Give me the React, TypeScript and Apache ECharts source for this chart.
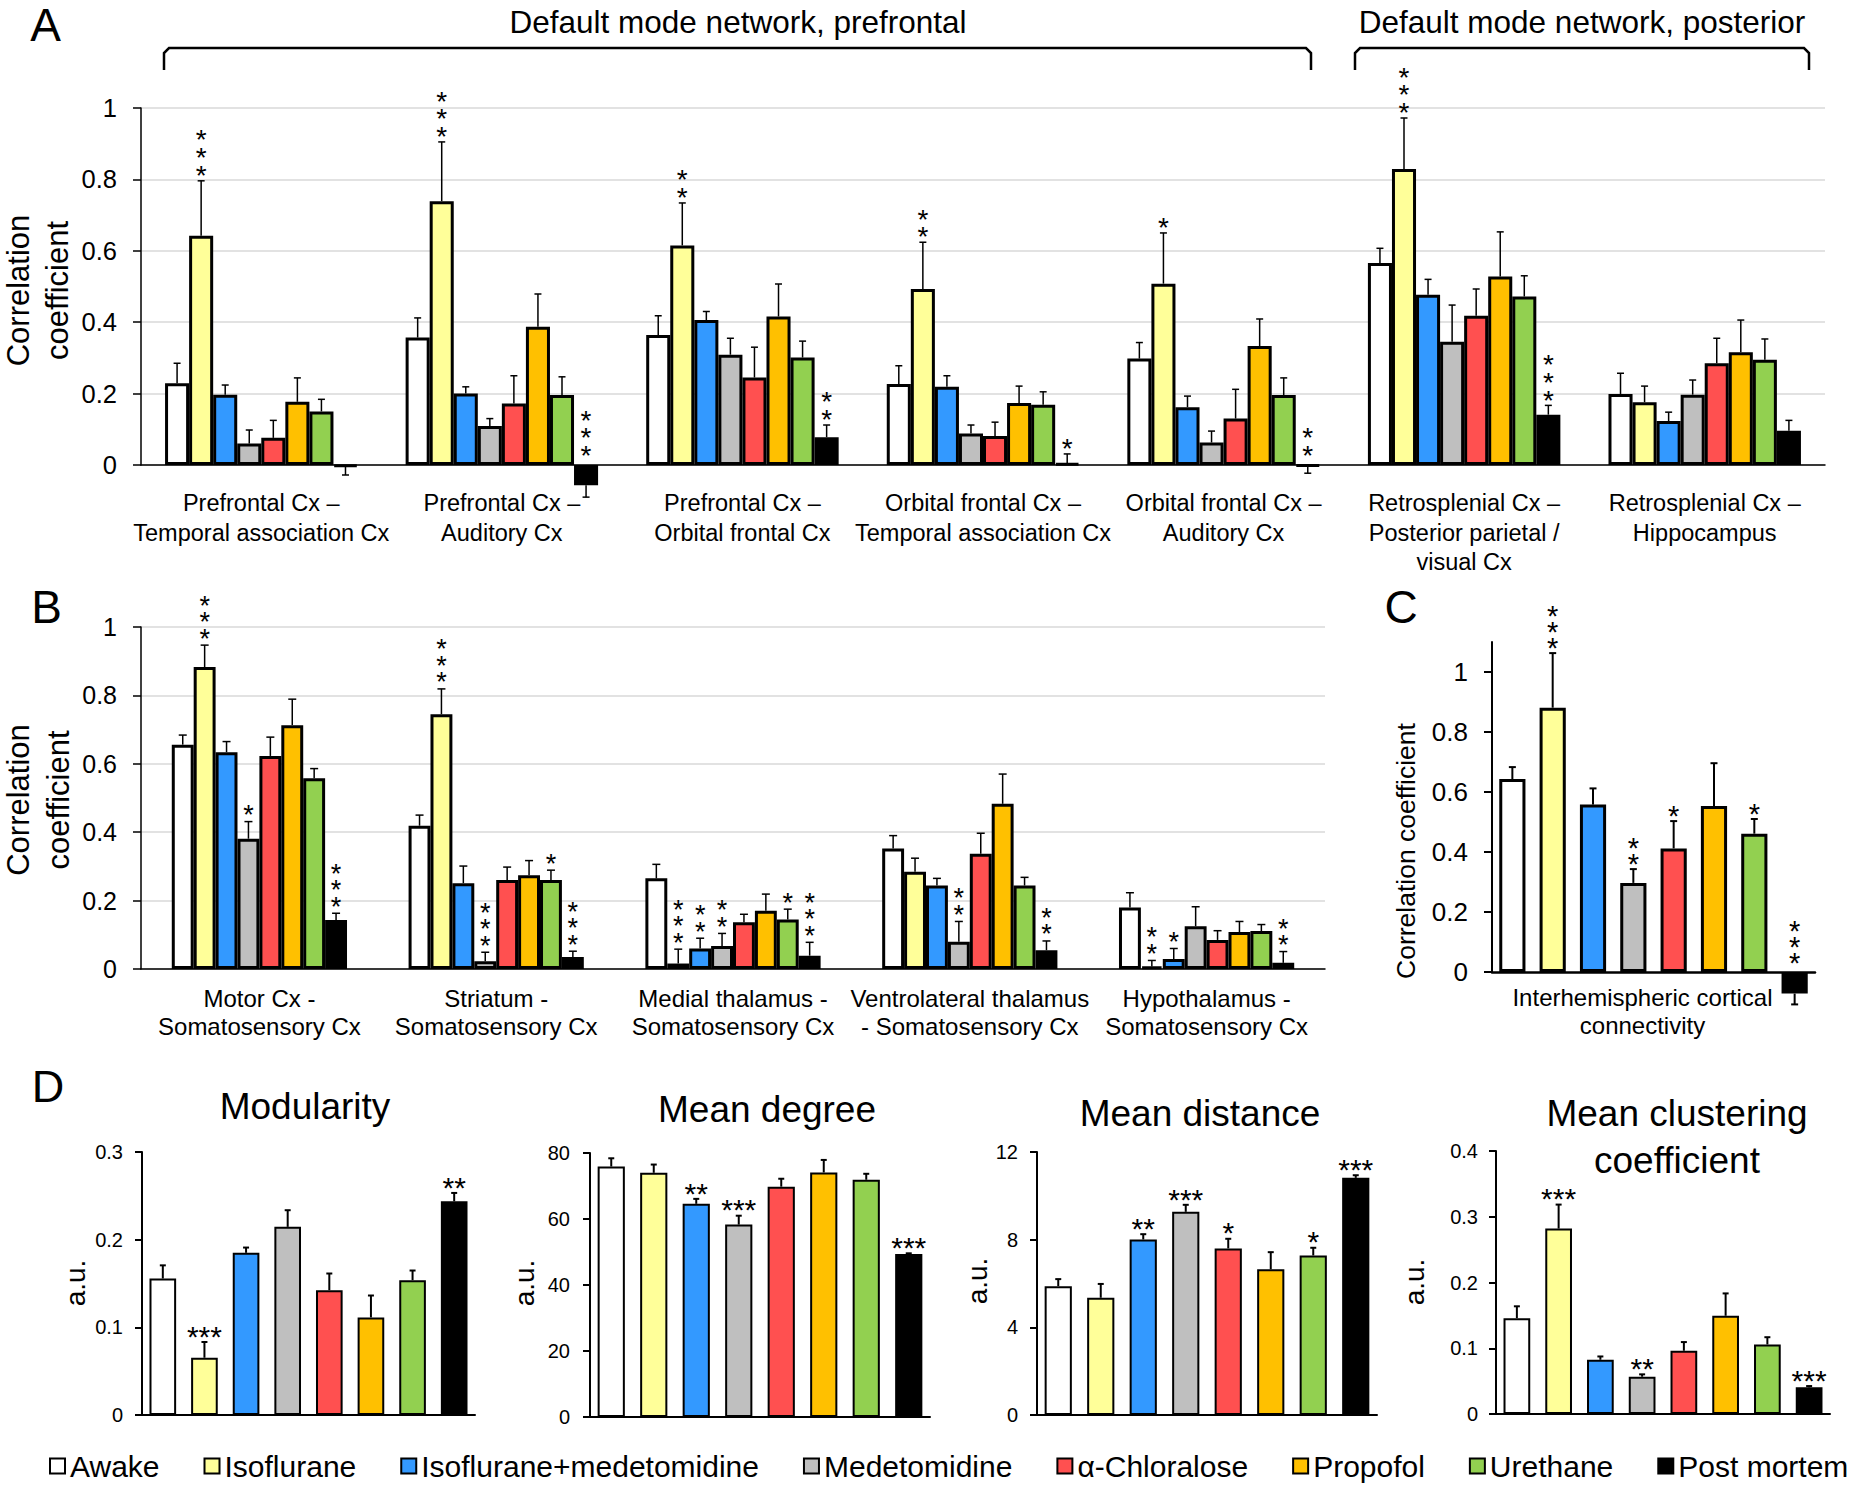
import React, { useEffect, useRef } from "react";
import * as echarts from "echarts";

const FONT = '"Liberation Sans", Arial, Helvetica, sans-serif';

const conditions = [
  "Awake",
  "Isoflurane",
  "Isoflurane+medetomidine",
  "Medetomidine",
  "α-Chloralose",
  "Propofol",
  "Urethane",
  "Post mortem",
];
const colors = ["#ffffff", "#ffff99", "#3399ff", "#bfbfbf", "#ff5050", "#ffc000", "#92d050", "#000000"];

// ---------- Panel A (rows = conditions, columns = categories)
const aCategories = [
  "Prefrontal Cx –\nTemporal association Cx",
  "Prefrontal Cx –\nAuditory Cx",
  "Prefrontal Cx –\nOrbital frontal Cx",
  "Orbital frontal Cx –\nTemporal association Cx",
  "Orbital frontal Cx –\nAuditory Cx",
  "Retrosplenial Cx –\nPosterior parietal /\nvisual Cx",
  "Retrosplenial Cx –\nHippocampus",
];
const aMean = [
  [0.229, 0.357, 0.364, 0.227, 0.298, 0.566, 0.199],
  [0.642, 0.739, 0.615, 0.493, 0.508, 0.829, 0.176],
  [0.197, 0.2, 0.406, 0.219, 0.162, 0.477, 0.123],
  [0.06, 0.109, 0.309, 0.088, 0.063, 0.345, 0.197],
  [0.076, 0.172, 0.245, 0.081, 0.13, 0.418, 0.285],
  [0.177, 0.387, 0.416, 0.174, 0.333, 0.528, 0.316],
  [0.15, 0.196, 0.301, 0.169, 0.196, 0.472, 0.295],
  [-0.004, -0.057, 0.078, 0.004, -0.003, 0.141, 0.096],
];
const aSem = [
  [0.056, 0.055, 0.054, 0.051, 0.045, 0.041, 0.058],
  [0.154, 0.166, 0.119, 0.131, 0.142, 0.143, 0.045],
  [0.027, 0.019, 0.024, 0.031, 0.031, 0.043, 0.025],
  [0.038, 0.021, 0.046, 0.024, 0.032, 0.103, 0.041],
  [0.049, 0.078, 0.085, 0.039, 0.082, 0.075, 0.07],
  [0.067, 0.092, 0.091, 0.047, 0.076, 0.125, 0.09],
  [0.034, 0.051, 0.046, 0.036, 0.048, 0.058, 0.058],
  [0.024, 0.033, 0.034, 0.027, 0.02, 0.026, 0.029],
];
const aStars = [
  ["", "", "", "", "", "", ""],
  ["***", "***", "**", "**", "*", "***", ""],
  ["", "", "", "", "", "", ""],
  ["", "", "", "", "", "", ""],
  ["", "", "", "", "", "", ""],
  ["", "", "", "", "", "", ""],
  ["", "", "", "", "", "", ""],
  ["", "***", "**", "*", "**", "***", ""],
];

// ---------- Panel B
const bCategories = [
  "Motor Cx -\nSomatosensory Cx",
  "Striatum -\nSomatosensory Cx",
  "Medial thalamus -\nSomatosensory Cx",
  "Ventrolateral thalamus\n- Somatosensory Cx",
  "Hypothalamus -\nSomatosensory Cx",
];
const bMean = [
  [0.656, 0.419, 0.265, 0.352, 0.18],
  [0.883, 0.745, 0.016, 0.284, 0.007],
  [0.634, 0.251, 0.06, 0.244, 0.029],
  [0.381, 0.023, 0.067, 0.08, 0.125],
  [0.623, 0.26, 0.137, 0.337, 0.085],
  [0.713, 0.274, 0.17, 0.483, 0.108],
  [0.558, 0.26, 0.145, 0.244, 0.111],
  [0.143, 0.035, 0.039, 0.055, 0.018],
];
const bSem = [
  [0.028, 0.031, 0.041, 0.038, 0.043],
  [0.064, 0.074, 0.042, 0.04, 0.018],
  [0.031, 0.05, 0.03, 0.021, 0.031],
  [0.05, 0.026, 0.037, 0.059, 0.057],
  [0.055, 0.038, 0.023, 0.06, 0.027],
  [0.076, 0.043, 0.049, 0.087, 0.031],
  [0.028, 0.029, 0.03, 0.024, 0.019],
  [0.02, 0.017, 0.039, 0.027, 0.033],
];
const bStars = [
  ["", "", "", "", ""],
  ["***", "***", "***", "", "**"],
  ["", "", "**", "", "*"],
  ["*", "***", "**", "**", ""],
  ["", "", "", "", ""],
  ["", "", "", "", ""],
  ["", "*", "*", "", ""],
  ["***", "***", "***", "**", "**"],
];

// ---------- Panel C
const cCategories = ["Interhemispheric cortical\nconnectivity"];
const cMean = [0.643, 0.881, 0.558, 0.297, 0.412, 0.553, 0.461, -0.072];
const cSem = [0.04, 0.182, 0.054, 0.046, 0.091, 0.143, 0.049, 0.036];
const cStars = ["", "***", "", "**", "*", "", "*", "***"];
const cTicks = [0, 0.2, 0.4, 0.6, 0.8, 1];

// ---------- Panel D
const modularityMean = [0.1557, 0.0653, 0.185, 0.2146, 0.1424, 0.1113, 0.1538, 0.2438];
const modularitySem = [0.015, 0.018, 0.006, 0.019, 0.019, 0.025, 0.011, 0.0095];
const modularityStars = ["", "***", "", "", "", "", "", "**"];

const degreeMean = [75.9, 74.0, 64.6, 58.3, 69.8, 74.1, 71.9, 49.4];
const degreeSem = [2.5, 2.5, 1.5, 2.7, 2.4, 3.8, 1.8, 0.2];
const degreeStars = ["", "", "**", "***", "", "", "", "***"];

const distanceMean = [5.88, 5.35, 8.01, 9.27, 7.6, 6.65, 7.28, 10.82];
const distanceSem = [0.32, 0.63, 0.24, 0.32, 0.44, 0.78, 0.35, 0.12];
const distanceStars = ["", "", "**", "***", "*", "", "*", "***"];

const clusteringMean = [0.1458, 0.282, 0.0825, 0.0567, 0.0962, 0.1494, 0.1058, 0.0405];
const clusteringSem = [0.018, 0.0365, 0.005, 0.0036, 0.0132, 0.034, 0.011, 0.002];
const clusteringStars = ["", "***", "", "**", "", "", "", "***"];

type StarCfg = {
  fs: number;
  gap: number;
  negGap: number;
  lh: number;
  vertical: boolean;
  cap: number;
  lw: number;
};

function starEls(x: number, baseY: number, gap: number, str: string, cfg: StarCfg) {
  if (!str) return [];
  if (cfg.vertical) {
    // one text, one star per line; lowest star centred at baseY - gap
    return [
      {
        type: "text",
        x,
        y: baseY - gap + cfg.fs * 0.24 + cfg.lh / 2,
        style: {
          text: str.split("").join("\n"),
          fontSize: cfg.fs,
          lineHeight: cfg.lh,
          fontFamily: FONT,
          fill: "#000",
          align: "center",
          verticalAlign: "bottom",
        },
      },
    ];
  }
  return [
    {
      type: "text",
      x,
      y: baseY - gap + cfg.fs * 0.24,
      style: {
        text: str,
        fontSize: cfg.fs,
        fontFamily: FONT,
        fill: "#000",
        align: "center",
        verticalAlign: "middle",
      },
    },
  ];
}

function errorEls(api: any, cx: number, v: number, s: number, cfg: StarCfg, stars: string) {
  const sign = v >= 0 ? 1 : -1;
  const p0 = api.coord([0, v])[1];
  const p1 = api.coord([0, v + sign * s])[1];
  const zero = api.coord([0, 0])[1];
  const children: any[] = [
    { type: "line", shape: { x1: cx, y1: p0, x2: cx, y2: p1 }, style: { stroke: "#000", lineWidth: cfg.lw } },
    {
      type: "line",
      shape: { x1: cx - cfg.cap, y1: p1, x2: cx + cfg.cap, y2: p1 },
      style: { stroke: "#000", lineWidth: cfg.lw },
    },
  ];
  if (v >= 0) children.push(...starEls(cx, p1, cfg.gap, stars, cfg));
  else children.push(...starEls(cx, zero, cfg.negGap, stars, cfg));
  return children;
}

function groupedSeries(
  gi: number,
  means: number[][],
  sems: number[][],
  stars: string[][],
  catGap: number,
  barGap: number,
  borderW: number,
  cfg: StarCfg
) {
  const out: any[] = [];
  means.forEach((row, i) => {
    out.push({
      type: "bar",
      name: conditions[i],
      xAxisIndex: gi,
      yAxisIndex: gi,
      data: row,
      barGap: `${barGap * 100}%`,
      barCategoryGap: `${catGap * 100}%`,
      itemStyle: { color: colors[i], borderColor: "#000", borderWidth: borderW },
      clip: false,
      silent: true,
      z: 2,
    });
  });
  const data: number[][] = [];
  means.forEach((row, i) => row.forEach((v, j) => data.push([j, v, sems[i][j], i])));
  const nCats = means[0].length;
  const n = means.length;
  out.push({
    type: "custom",
    xAxisIndex: gi,
    yAxisIndex: gi,
    silent: true,
    z: 4,
    clip: false,
    data,
    encode: { x: 0, y: 1 },
    renderItem: (params: any, api: any) => {
      const j = api.value(0);
      const v = api.value(1);
      const s = api.value(2);
      const i = api.value(3);
      const band = params.coordSys.width / nCats;
      const avail = band * (1 - catGap);
      const w = avail / (n + (n - 1) * barGap);
      const center = api.coord([j, 0])[0];
      const cx = center - avail / 2 + w / 2 + i * w * (1 + barGap);
      return { type: "group", children: errorEls(api, cx, v, s, cfg, stars[i][j]) };
    },
  });
  return out;
}

function singleSeries(gi: number, name: string, mean: number[], sem: number[], stars: string[], cfg: StarCfg) {
  return [
    {
      type: "bar",
      name,
      xAxisIndex: gi,
      yAxisIndex: gi,
      data: mean.map((v, i) => ({ value: v, itemStyle: { color: colors[i] } })),
      barCategoryGap: "36%",
      itemStyle: { borderColor: "#000", borderWidth: 2 },
      silent: true,
      z: 2,
    },
    {
      type: "custom",
      xAxisIndex: gi,
      yAxisIndex: gi,
      silent: true,
      z: 4,
      clip: false,
      data: mean.map((v, i) => [i, v, sem[i]]),
      encode: { x: 0, y: 1 },
      renderItem: (params: any, api: any) => {
        const i = api.value(0);
        const v = api.value(1);
        const s = api.value(2);
        const cx = api.coord([i, v])[0];
        return { type: "group", children: errorEls(api, cx, v, s, cfg, stars[i]) };
      },
    },
  ];
}

function yAxis(gi: number, min: number, max: number, interval: number | undefined, fs: number, margin: number, lw: number, split: boolean) {
  const ax: any = {
    type: "value",
    gridIndex: gi,
    min,
    max,
    axisLine: { show: true, lineStyle: { color: "#000", width: lw } },
    axisTick: { show: true, length: gi >= 3 ? 7 : 8, lineStyle: { color: "#000", width: lw } },
    axisLabel: { fontSize: fs, color: "#000", margin, fontFamily: FONT },
    splitLine: { show: split, lineStyle: { color: "#d9d9d9", width: 1.5 } },
  };
  if (interval !== undefined) ax.interval = interval;
  return ax;
}

function catAxis(gi: number, data: string[], label: any, lw: number) {
  return {
    type: "category",
    gridIndex: gi,
    data,
    axisLine: { show: true, onZero: true, lineStyle: { color: "#000", width: lw } },
    axisTick: { show: false },
    axisLabel: label,
  };
}

function text(x: number, y: number, t: string, fs: number, extra: any = {}, style: any = {}) {
  return {
    type: "text",
    x,
    y,
    ...extra,
    style: {
      text: t,
      fontSize: fs,
      fontFamily: FONT,
      fill: "#000",
      align: "center",
      verticalAlign: "middle",
      ...style,
    },
  };
}

function buildOption() {
  const grids = [
    { left: 141, top: 108, width: 1684, height: 357 },
    { left: 141, top: 627, width: 1184, height: 342 },
    { left: 1492, top: 642, width: 323, height: 330 },
    { left: 142, top: 1152, width: 333, height: 263 },
    { left: 590, top: 1153, width: 340, height: 264 },
    { left: 1037, top: 1152, width: 340, height: 263 },
    { left: 1496, top: 1151, width: 334, height: 263 },
  ].map((g) => ({ ...g, containLabel: false, outerBoundsMode: "none" }));

  const cY = yAxis(2, 0, 1.1, undefined, 26, 24, 2, false);
  cY.axisLabel.customValues = cTicks;
  cY.axisLabel.formatter = (v: number) => (v > 1.05 ? "" : String(v));
  cY.axisTick.customValues = cTicks;

  const yAxes = [
    yAxis(0, 0, 1, 0.2, 25.5, 24, 1.5, true),
    yAxis(1, 0, 1, 0.2, 25, 24, 1.5, true),
    cY,
    yAxis(3, 0, 0.3, 0.1, 20, 19, 2, false),
    yAxis(4, 0, 80, 20, 20, 20, 2, false),
    yAxis(5, 0, 12, 4, 20, 19, 2, false),
    yAxis(6, 0, 0.4, 0.1, 20, 18, 2, false),
  ];

  const lbl = (fs: number, lh: number, margin: number, extra: any = {}) => ({
    interval: 0,
    fontSize: fs,
    lineHeight: lh,
    margin,
    color: "#000",
    fontFamily: FONT,
    ...extra,
  });
  const xAxes = [
    catAxis(0, aCategories, lbl(23.5, 29.7, 23), 1.5),
    catAxis(1, bCategories, lbl(24, 28.4, 15), 1.5),
    catAxis(2, cCategories, lbl(24, 28, 11, { padding: [0, 22, 0, 0] }), 2.5),
    catAxis(3, conditions, { show: false }, 2),
    catAxis(4, conditions, { show: false }, 2),
    catAxis(5, conditions, { show: false }, 2),
    catAxis(6, conditions, { show: false }, 2),
  ];

  const cfgA: StarCfg = { fs: 28, gap: 12, negGap: 16, lh: 17.8, vertical: true, cap: 3.5, lw: 1.5 };
  const cfgB: StarCfg = { fs: 27, gap: 13, negGap: 13, lh: 16.5, vertical: true, cap: 4, lw: 1.5 };
  const cfgC: StarCfg = { fs: 29, gap: 12, negGap: 16, lh: 16, vertical: true, cap: 3.5, lw: 2 };
  const cfgD: StarCfg = { fs: 30, gap: 13, negGap: 13, lh: 0, vertical: false, cap: 3, lw: 2 };

  const series = [
    ...groupedSeries(0, aMean, aSem, aStars, 0.2, 0, 3, cfgA),
    ...groupedSeries(1, bMean, bSem, bStars, 0.26, 0, 3, cfgB),
    ...groupedSeries(
      2,
      cMean.map((v) => [v]),
      cSem.map((v) => [v]),
      cStars.map((s) => [s]),
      0.045,
      0.54,
      3,
      cfgC
    ),
    ...singleSeries(3, "Modularity", modularityMean, modularitySem, modularityStars, cfgD),
    ...singleSeries(4, "Mean degree", degreeMean, degreeSem, degreeStars, cfgD),
    ...singleSeries(5, "Mean distance", distanceMean, distanceSem, distanceStars, cfgD),
    ...singleSeries(6, "Mean clustering coefficient", clusteringMean, clusteringSem, clusteringStars, cfgD),
  ];

  const bracket = (x1: number, x2: number) => ({
    type: "polyline",
    shape: {
      points: [
        [x1, 70],
        [x1, 53],
        [x1 + 5, 48],
        [x2 - 5, 48],
        [x2, 53],
        [x2, 70],
      ],
    },
    style: { stroke: "#000", lineWidth: 2.5, fill: null },
  });

  const R = Math.PI / 2;
  const graphics = [
    text(45.5, 25, "A", 46, {}, { lineHeight: 40 }),
    text(46.5, 606.5, "B", 46, {}, { lineHeight: 40 }),
    text(1401, 607, "C", 46, {}, { lineHeight: 40 }),
    text(48, 1086, "D", 45, {}, { lineHeight: 40 }),
    text(738, 22, "Default mode network, prefrontal", 31.5, {}, { lineHeight: 34 }),
    text(1582, 22, "Default mode network, posterior", 31.5, {}, { lineHeight: 34 }),
    bracket(164, 1311),
    bracket(1355, 1809),
    text(37.5, 290.5, "Correlation\ncoefficient", 31, { rotation: R }, { lineHeight: 39 }),
    text(38, 800, "Correlation\ncoefficient", 31, { rotation: R }, { lineHeight: 40 }),
    text(1406, 851, "Correlation coefficient", 26.5, { rotation: R }),
    text(305, 1106, "Modularity", 37),
    text(767, 1109, "Mean degree", 37),
    text(1200, 1113, "Mean distance", 37),
    text(1677, 1136.5, "Mean clustering\ncoefficient", 37, {}, { lineHeight: 47 }),
    text(75, 1283, "a.u.", 28, { rotation: R }),
    text(524, 1283, "a.u.", 28, { rotation: R }),
    text(977, 1281, "a.u.", 28, { rotation: R }),
    text(1414, 1282, "a.u.", 28, { rotation: R }),
  ];

  return {
    animation: false,
    backgroundColor: "#ffffff",
    textStyle: { fontFamily: FONT, color: "#000" },
    grid: grids,
    xAxis: xAxes,
    yAxis: yAxes,
    series,
    legend: {
      data: conditions,
      left: 49,
      top: 1451,
      padding: 0,
      itemWidth: 15,
      itemHeight: 15,
      itemGap: 44,
      icon: "rect",
      selectedMode: false,
      itemStyle: { borderColor: "#000", borderWidth: 2 },
      textStyle: { fontSize: 30, color: "#000", fontFamily: FONT },
    },
    graphic: { elements: graphics },
  };
}

export default function App() {
  const ref = useRef<HTMLDivElement>(null);
  useEffect(() => {
    if (!ref.current) return;
    const chart = echarts.init(ref.current, undefined, { renderer: "svg" });
    chart.setOption(buildOption() as any);
    return () => chart.dispose();
  }, []);
  return (
    <div
      ref={ref}
      style={{ position: "absolute", left: 0, top: 0, width: 1860, height: 1490, background: "#fff" }}
    />
  );
}
